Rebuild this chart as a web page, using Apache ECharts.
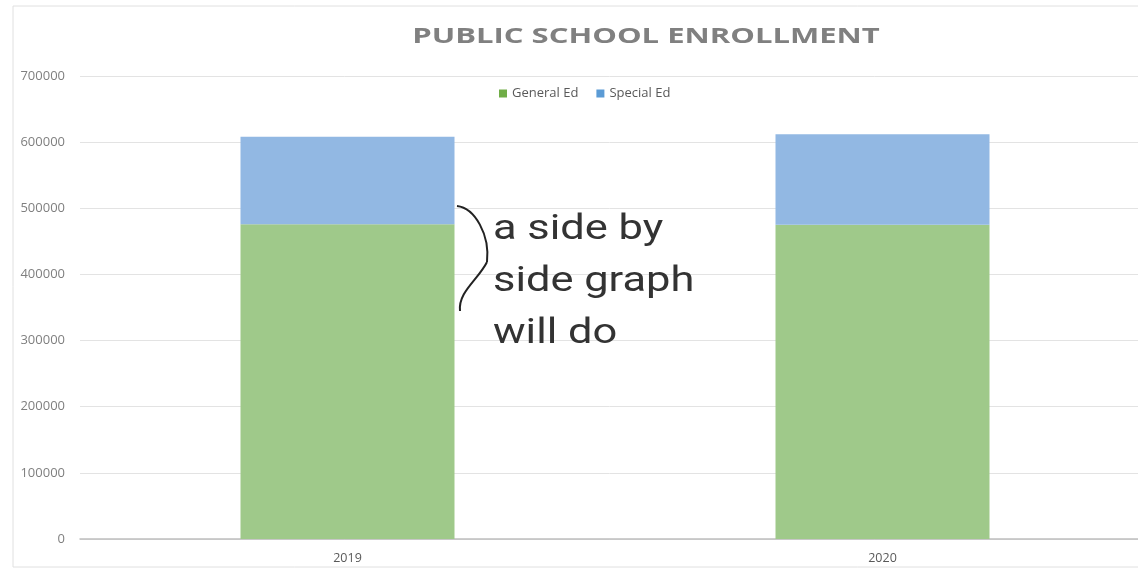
<!DOCTYPE html>
<html><head><meta charset="utf-8">
<script src="https://cdn.jsdelivr.net/npm/echarts@6/dist/echarts.min.js"></script>
<style>html,body{margin:0;padding:0;background:#fff}#c{width:1138px;height:571px}</style>
</head><body><div id="c"></div>
<script>
const categories = ['2019', '2020'];
const generalEd = [476000, 475000];
const specialEd = [132000, 137000];
const yTicks = [0, 100000, 200000, 300000, 400000, 500000, 600000, 700000];

const chart = echarts.init(document.getElementById('c'));
chart.setOption({
  animation: false,
  backgroundColor: '#fff',
  legend: {
    top: 82, left: 494, itemWidth: 8, itemHeight: 8, itemGap: 18,
    icon: 'rect',
    textStyle: {fontFamily: 'Open Sans', fontSize: 13, color: '#595959'},
    data: [{name: 'General Ed', itemStyle: {color: '#70ad47'}}, {name: 'Special Ed', itemStyle: {color: '#5b9bd5'}}]
  },
  grid: {left: 80, width: 1070, top: 76, bottom: 32, containLabel: false, outerBoundsMode: 'none'},
  xAxis: {
    type: 'category', data: categories,
    axisLine: {lineStyle: {color: '#bfbfbf', width: 1.5}},
    axisTick: {show: false},
    axisLabel: {fontFamily: 'Open Sans', fontSize: 12.5, color: '#595959', margin: 13}
  },
  yAxis: {
    type: 'value', min: 0, max: 700000, interval: 100000,
    axisLine: {show: false}, axisTick: {show: false},
    splitLine: {lineStyle: {color: '#e3e3e3', width: 1}},
    axisLabel: {fontFamily: 'Open Sans', fontSize: 13, color: '#7f7f7f', margin: 15,
      formatter: v => yTicks.includes(v) ? String(v) : ''}
  },
  series: [
    {name: 'General Ed', type: 'bar', stack: 'a', barWidth: '40%', data: generalEd,
      itemStyle: {color: '#9fc98a'}},
    {name: 'Special Ed', type: 'bar', stack: 'a', barWidth: '40%', data: specialEd,
      itemStyle: {color: '#92b8e3'}}
  ],
  graphic: [
    {type: 'rect', shape: {x: 13, y: 6, width: 1140, height: 561}, style: {fill: 'none', stroke: '#e0e0e0', lineWidth: 1}, silent: true},
    {type: 'text', x: 646, y: 37, scaleX: 1.41, originX: 0, originY: 0, z: 100, style: {
      text: 'PUBLIC SCHOOL ENROLLMENT', font: 'bold 22px "Open Sans"', fill: '#808080',
      textAlign: 'center', textVerticalAlign: 'middle', align: 'center', verticalAlign: 'middle'}},
    {type: 'text', x: 493, y: 204, scaleX: 1.24, originX: 0, originY: 0, z: 100, style: {
      text: 'a side by\nside graph\nwill do', font: '35px Roboto', fill: '#333333', lineHeight: 52}},
    {type: 'bezierCurve', z: 100, shape: {x1: 457, y1: 206, cpx1: 475, cpy1: 208, cpx2: 490, cpy2: 235, x2: 487, y2: 262},
      style: {fill: 'none', stroke: '#222', lineWidth: 2}},
    {type: 'bezierCurve', z: 100, shape: {x1: 487, y1: 262, cpx1: 478, cpy1: 280, cpx2: 458, cpy2: 292, x2: 460, y2: 311},
      style: {fill: 'none', stroke: '#222', lineWidth: 2}}
  ]
});
</script></body></html>
